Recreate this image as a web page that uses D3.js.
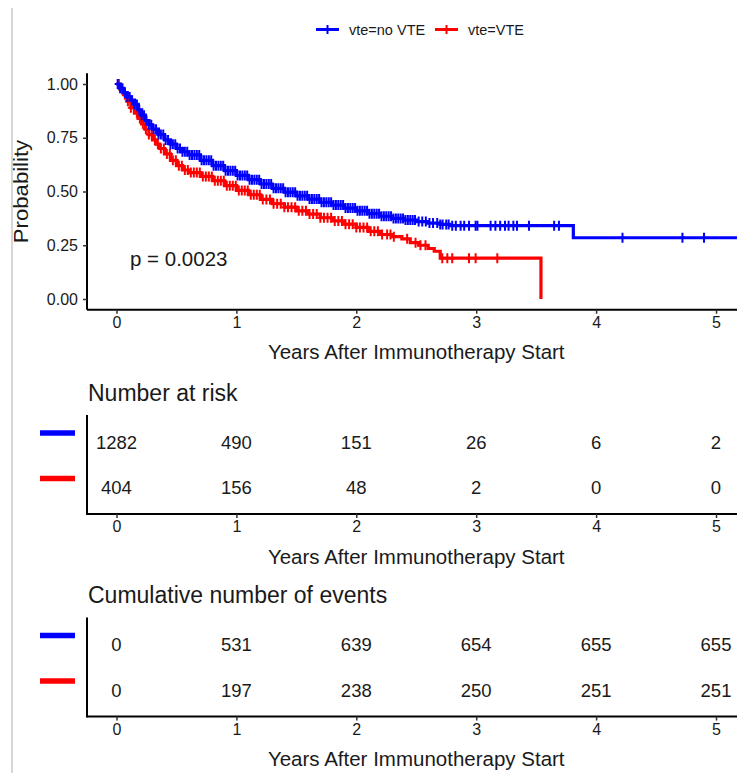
<!DOCTYPE html>
<html><head><meta charset="utf-8">
<script src="https://cdn.jsdelivr.net/npm/d3@7"></script>
<style>
body{margin:0;background:#fff}
svg{display:block}
text{font-family:"Liberation Sans",Arial,sans-serif;fill:#1a1a1a}
</style>
</head><body>
<svg id="c" width="737" height="773"></svg>
<script>
// ---------- data ----------
const groups = ["vte=no VTE", "vte=VTE"];
const colors = ["#0000ff", "#ff0000"];
const xTicks = [0, 1, 2, 3, 4, 5];
const yTicks = [0, 0.25, 0.5, 0.75, 1];
const yTickLabels = ["0.00", "0.25", "0.50", "0.75", "1.00"];
const pValue = "p = 0.0023";
const xTitle = "Years After Immunotherapy Start";
const yTitle = "Probability";

// Kaplan-Meier steps [time, survival]
const survNoVTE = [[0,1.0],[0.03,0.98],[0.06,0.96],[0.09,0.94],[0.12,0.925],[0.15,0.905],[0.18,0.88],[0.21,0.855],[0.24,0.83],[0.27,0.81],[0.30,0.79],[0.35,0.765],[0.40,0.74],[0.45,0.72],[0.50,0.70],[0.55,0.685],[0.60,0.67],[0.70,0.645],[0.80,0.62],[0.90,0.597],[1.00,0.575],[1.10,0.555],[1.20,0.535],[1.30,0.515],[1.40,0.497],[1.50,0.48],[1.60,0.465],[1.70,0.45],[1.80,0.437],[1.90,0.423],[2.00,0.41],[2.10,0.397],[2.20,0.385],[2.30,0.375],[2.40,0.367],[2.50,0.36],[2.60,0.353],[2.70,0.347],[2.78,0.341],[3.81,0.285],[5.40,0.285]];
const survVTE = [[0,1.0],[0.03,0.975],[0.06,0.95],[0.09,0.92],[0.12,0.89],[0.15,0.865],[0.18,0.84],[0.21,0.815],[0.24,0.79],[0.27,0.765],[0.30,0.74],[0.33,0.72],[0.36,0.70],[0.40,0.675],[0.45,0.645],[0.50,0.62],[0.55,0.60],[0.60,0.588],[0.70,0.57],[0.80,0.55],[0.90,0.527],[1.00,0.505],[1.10,0.485],[1.20,0.463],[1.30,0.443],[1.40,0.427],[1.50,0.41],[1.60,0.395],[1.70,0.378],[1.80,0.363],[1.90,0.348],[2.00,0.333],[2.10,0.315],[2.20,0.30],[2.30,0.29],[2.38,0.28],[2.45,0.262],[2.52,0.25],[2.60,0.235],[2.65,0.222],[2.70,0.19],[3.54,0]];

// censoring times (+ marks)
const censorNoVTE = [0.01,0.03,0.05,0.07,0.09,0.11,0.13,0.15,0.17,0.19,0.21,0.23,0.25,0.27,0.29,0.31,0.33,0.35,0.37,0.39,0.41,0.43,0.45,0.47,0.49,0.51,0.53,0.55,0.57,0.59,0.61,0.63,0.65,0.67,0.69,0.71,0.73,0.75,0.77,0.79,0.81,0.83,0.85,0.87,0.89,0.91,0.93,0.95,0.97,0.99,1.01,1.03,1.05,1.07,1.09,1.11,1.13,1.15,1.17,1.19,1.21,1.23,1.25,1.27,1.29,1.31,1.33,1.35,1.37,1.39,1.41,1.43,1.45,1.47,1.49,1.51,1.53,1.55,1.57,1.59,1.61,1.63,1.65,1.67,1.69,1.71,1.73,1.75,1.77,1.79,1.81,1.83,1.85,1.87,1.89,1.91,1.93,1.95,1.97,1.99,2.01,2.03,2.05,2.07,2.09,2.11,2.13,2.15,2.17,2.19,2.21,2.23,2.25,2.27,2.29,2.31,2.33,2.35,2.37,2.39,2.41,2.43,2.45,2.47,2.49,2.52,2.55,2.58,2.61,2.64,2.675,2.70,2.72,2.75,2.77,2.80,2.83,2.87,2.90,2.94,2.995,3.01,3.12,3.16,3.20,3.24,3.27,3.31,3.34,3.44,3.65,3.69,4.22,4.72,4.90];
const censorVTE = [0.02,0.045,0.07,0.095,0.12,0.145,0.17,0.195,0.22,0.245,0.27,0.295,0.32,0.345,0.37,0.395,0.42,0.445,0.47,0.495,0.52,0.545,0.57,0.595,0.62,0.645,0.67,0.695,0.72,0.745,0.77,0.795,0.82,0.845,0.87,0.895,0.92,0.945,0.97,0.995,1.02,1.045,1.07,1.095,1.12,1.145,1.17,1.195,1.22,1.25,1.28,1.31,1.34,1.37,1.40,1.43,1.46,1.49,1.52,1.55,1.58,1.61,1.64,1.67,1.70,1.73,1.76,1.79,1.82,1.85,1.88,1.91,1.94,1.97,2.00,2.03,2.06,2.09,2.12,2.15,2.18,2.215,2.257,2.285,2.313,2.424,2.494,2.535,2.577,2.717,2.759,2.80,2.94,2.995,3.176];

// risk tables
const tableTimes = [0, 1, 2, 3, 4, 5];
const atRiskNoVTE = [1282, 490, 151, 26, 6, 2];
const atRiskVTE = [404, 156, 48, 2, 0, 0];
const eventsNoVTE = [0, 531, 639, 654, 655, 655];
const eventsVTE = [0, 197, 238, 250, 251, 251];
const tableTitles = ["Number at risk", "Cumulative number of events"];

// ---------- drawing ----------
const svg = d3.select("#c");
const F = '"Liberation Sans",Arial,sans-serif';

// frame
svg.append("line").attr("x1",12).attr("x2",12).attr("y1",8).attr("y2",773).attr("stroke","#d6d6d6").attr("stroke-width",2);

const x = d3.scaleLinear().domain([-0.246, 5.175]).range([87, 737]);
const y = d3.scaleLinear().domain([-0.05, 1.05]).range([309.75, 73.25]);

// legend
const legX = [316, 435];
groups.forEach((g, i) => {
  const lg = svg.append("g").attr("transform", `translate(${legX[i]},29.5)`);
  lg.append("line").attr("x1",0).attr("x2",23).attr("y1",0).attr("y2",0).attr("stroke",colors[i]).attr("stroke-width",3);
  lg.append("line").attr("x1",11.5).attr("x2",11.5).attr("y1",-4.5).attr("y2",4.5).attr("stroke",colors[i]).attr("stroke-width",2);
  lg.append("text").attr("x",33).attr("y",5.2).attr("font-size",14.5).text(g);
});

// axes for KM plot
const gx = svg.append("g").attr("transform","translate(0,309.75)")
  .call(d3.axisBottom(x).tickValues(xTicks).tickSize(4).tickPadding(3).tickFormat(d3.format("d")));
const gy = svg.append("g").attr("transform","translate(87,0)")
  .call(d3.axisLeft(y).tickValues(yTicks).tickSize(4).tickPadding(5).tickFormat((d,i)=>yTickLabels[i]));
[gx, gy].forEach(g => {
  g.select(".domain").attr("stroke","#000").attr("stroke-width",2);
  g.selectAll(".tick line").attr("stroke","#333").attr("stroke-width",1.5);
  g.selectAll(".tick text").attr("font-size",16).attr("font-family",F).attr("fill","#1a1a1a");
});
gx.select(".domain").attr("d", "M87,0H737");
gy.select(".domain").attr("d", "M0,73.25V309.75");

// curves
svg.append("clipPath").attr("id","pc").append("rect").attr("x",88).attr("y",60).attr("width",660).attr("height",249);
const line = d3.line().x(d=>x(d[0])).y(d=>y(d[1])).curve(d3.curveStepAfter);
const survs = [survNoVTE, survVTE];
const censors = [censorNoVTE, censorVTE];
const plot = svg.append("g").attr("clip-path","url(#pc)");
function survAt(s, t){ let v = s[0][1]; for (const p of s){ if (p[0] <= t) v = p[1]; else break; } return v; }
[1,0].forEach(i => {
  plot.append("path").attr("d", line(survs[i])).attr("fill","none").attr("stroke",colors[i]).attr("stroke-width",3.2);
  plot.append("g").selectAll("path").data(censors[i]).join("path")
    .attr("d", t => { const cx = x(t), cy = y(survAt(survs[i], t)); return `M${cx-3},${cy}H${cx+3}M${cx},${cy-5}V${cy+5}`; })
    .attr("stroke",colors[i]).attr("stroke-width",2).attr("fill","none");
});

// p value
svg.append("text").attr("x",130).attr("y",266).attr("font-size",20.5).text(pValue);

// axis titles
svg.append("text").attr("x",x(2.5)).attr("y",359).attr("text-anchor","middle").attr("font-size",20.5).text(xTitle);
svg.append("text").attr("transform","translate(27.5,191.5) rotate(-90) scale(1.08,1)").attr("text-anchor","middle").attr("font-size",20.5).text(yTitle);

// tables
const tableData = [[atRiskNoVTE, atRiskVTE], [eventsNoVTE, eventsVTE]];
const tableTop = [415, 617.5];
tableData.forEach((rows, k) => {
  const off = k * 202.5;
  const g = svg.append("g");
  g.append("text").attr("x",88).attr("y",400.5 + off).attr("font-size",23).text(tableTitles[k]);
  const ry = d3.scalePoint().domain(groups).range([442 + off, 487.5 + off]);
  const ax = g.append("g").attr("transform",`translate(0,${514 + off})`)
    .call(d3.axisBottom(x).tickValues(xTicks).tickSize(4).tickPadding(3).tickFormat(d3.format("d")));
  ax.select(".domain").attr("d","M87,0H737").attr("stroke","#000").attr("stroke-width",2);
  ax.selectAll(".tick line").attr("stroke","#333").attr("stroke-width",1.5);
  ax.selectAll(".tick text").attr("font-size",16).attr("font-family",F).attr("fill","#1a1a1a");
  g.append("line").attr("x1",87).attr("x2",87).attr("y1",tableTop[k]).attr("y2",515 + off).attr("stroke","#000").attr("stroke-width",2);
  groups.forEach((gr, i) => {
    const cy = ry(gr);
    g.append("line").attr("x1",40).attr("x2",75).attr("y1",cy-9).attr("y2",cy-9).attr("stroke",colors[i]).attr("stroke-width",5.5);
    g.append("g").selectAll("text").data(rows[i]).join("text")
      .attr("x",(d,j)=>x(tableTimes[j])).attr("y",cy + 6.5).attr("text-anchor","middle").attr("font-size",18.5).text(d=>d);
  });
  g.append("text").attr("x",x(2.5)).attr("y",563.5 + off).attr("text-anchor","middle").attr("font-size",20.5).text(xTitle);
});
</script>
</body></html>
